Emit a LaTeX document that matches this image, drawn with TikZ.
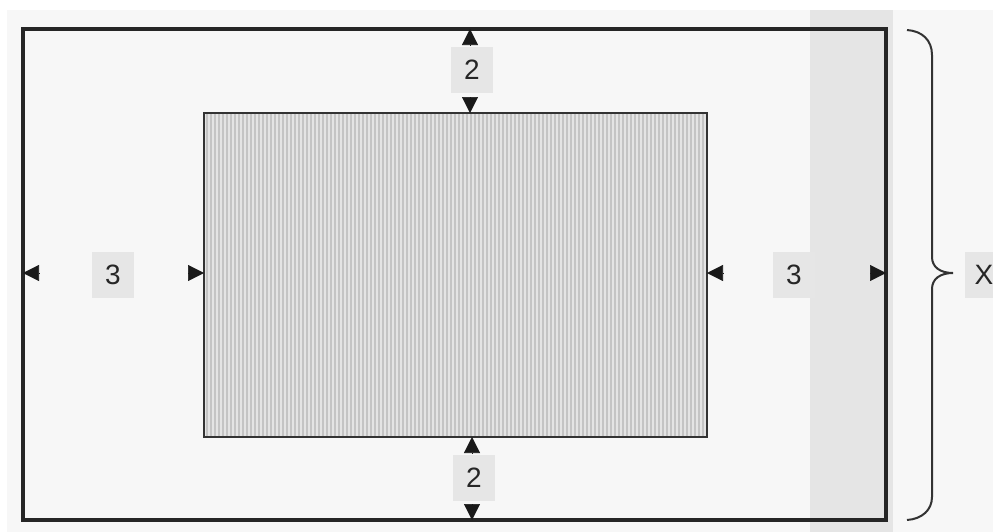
\documentclass[tikz,border=0pt]{standalone}
\usepackage{fontspec}
\setmainfont{Liberation Sans}
\usetikzlibrary{arrows.meta}

\definecolor{paper}{RGB}{247,247,247}
\definecolor{band}{RGB}{229,229,229}
\definecolor{tag}{RGB}{230,230,230}
\definecolor{ridge}{RGB}{196,196,196}
\definecolor{ridgefill}{RGB}{228,228,228}

\tikzset{
  numtag/.style={fill=tag, inner sep=0pt, minimum width=32pt, minimum height=35pt,
    font=\fontsize{21}{25}\selectfont, text=black!85},
  tip/.style={-{Triangle[length=12pt,width=12pt]}, line width=0.4pt, black!90},
}

\begin{document}
\begin{tikzpicture}[x=0.75pt,y=0.75pt,yscale=-1,xscale=1]
\useasboundingbox (0,0) rectangle (993,532);
\clip (0,0) rectangle (993,532);

%Shape: Rectangle [paper]
\fill [paper] (7,10) rectangle (993,532);
%Shape: Rectangle [band]
\fill [band] (810,10) rectangle (893,532);

%Shape: Rectangle [outer frame]
\draw [line width=2.3pt, color=black!85] (23,29) rectangle (886,520);
\coordinate (outT) at (470,29);
\coordinate (outB) at (472,520);
\coordinate (outL) at (23,273);
\coordinate (outR) at (886,273);

%Shape: Rectangle [inner block]
\fill [ridgefill] (204,113) rectangle (707,437);
\foreach \i in {207,211,...,705}
  \draw [ridge, line width=1.1pt] (\i,114) -- (\i,436);
\draw [line width=1.6pt, color=black!80] (204,113) rectangle (707,437);
\coordinate (inT) at (470,113);
\coordinate (inB) at (472,437);
\coordinate (inL) at (204,273);
\coordinate (inR) at (707,273);

% Text Node
\node [numtag] (topgap) at (472,70) {2};
% Text Node
\node [numtag] (botgap) at (474,478) {2};
% Text Node
\node [numtag] (leftgap) at (113,275) {3};
% Text Node
\node [numtag] (rightgap) at (794,275) {3};
% Text Node
\node [numtag, minimum width=28pt, anchor=west] (total) at (965,275) {X};

%Arrow heads (shaft as long as the tip)
\coordinate (outTb) at (470,45);
\coordinate (inTb) at (470,97);
\coordinate (inBb) at (472,453);
\coordinate (outBb) at (472,504);
\coordinate (outLb) at (39,273);
\coordinate (inLb) at (188,273);
\coordinate (inRb) at (723,273);
\coordinate (outRb) at (870,273);
\draw [tip] (outTb) -- (outT);
\draw [tip] (inTb) -- (inT);
\draw [tip] (inBb) -- (inB);
\draw [tip] (outBb) -- (outB);
\draw [tip] (outLb) -- (outL);
\draw [tip] (inLb) -- (inL);
\draw [tip] (inRb) -- (inR);
\draw [tip] (outRb) -- (outR);

%Curve Lines [brace]
\draw [line width=1.5pt, color=black!80] (907,30) .. controls (922,31) and (932,40) .. (932,55) -- (932,257)
  .. controls (932,267) and (940,273) .. (953,273)
  .. controls (940,273) and (932,279) .. (932,289) -- (932,497)
  .. controls (932,510) and (922,519) .. (907,520);

\end{tikzpicture}
\end{document}
